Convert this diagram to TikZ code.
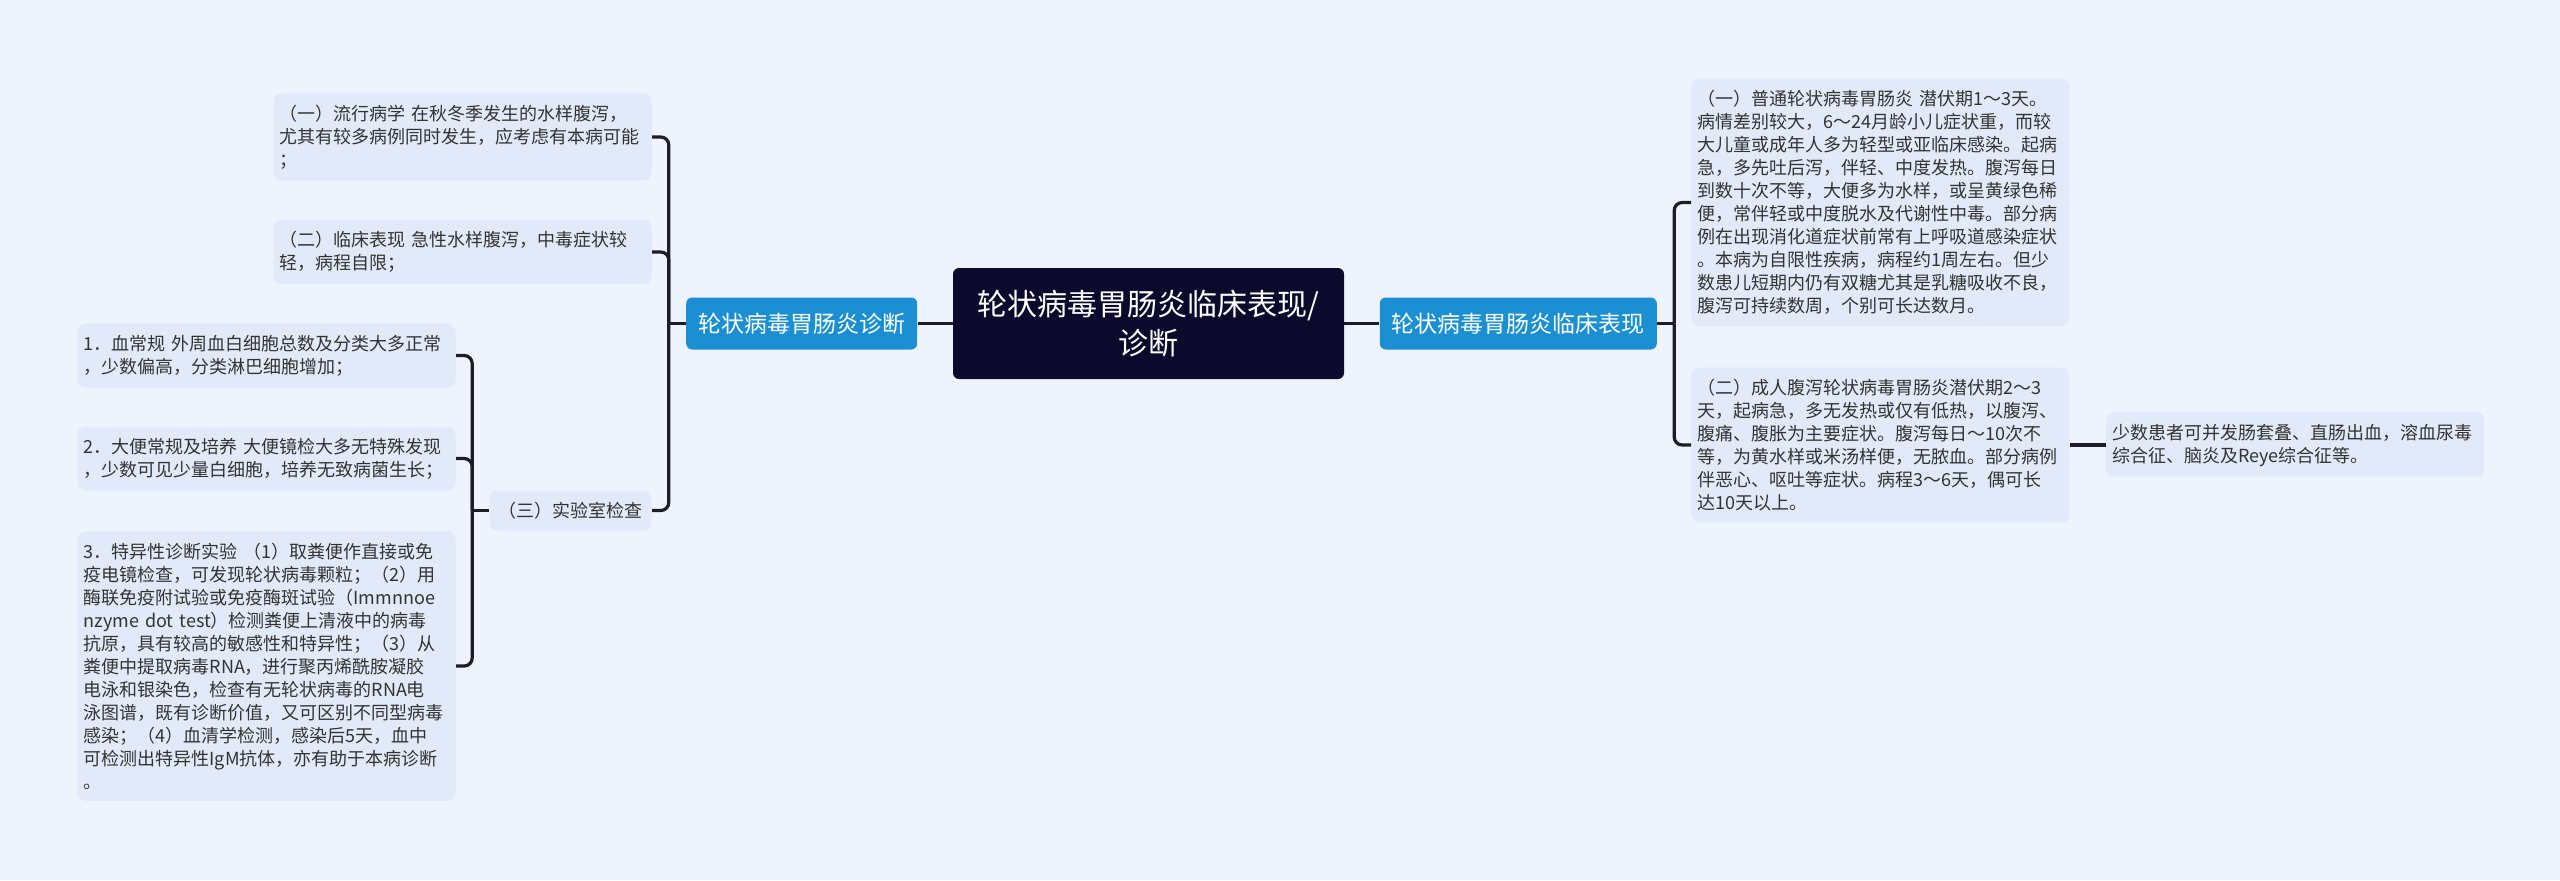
\documentclass[tikz,border=0pt]{standalone}
\usepackage{fontspec}
\setmainfont{Noto Sans CJK SC}
\usepackage{xcolor}
\usepackage{tikz}
\usetikzlibrary{positioning}
\definecolor{bgcol}{HTML}{EEF3FD}
\definecolor{leafcol}{HTML}{E2EAF9}
\definecolor{topiccol}{HTML}{1B8FD2}
\definecolor{rootcol}{HTML}{0B0A2C}
\definecolor{linecol}{HTML}{1C1C2C}
\definecolor{textcol}{HTML}{333333}
\tikzset{
  leafbox/.style={fill=leafcol, rounded corners=4pt, align=left, text=textcol,
                  font=\fontsize{9pt}{11.5pt}\selectfont, text width=183pt,
                  inner xsep=3pt, inner ysep=5.75pt},
  labbox/.style={fill=leafcol, rounded corners=4pt, text=textcol,
                 font=\fontsize{9pt}{11.5pt}\selectfont, inner xsep=4.5pt, inner ysep=5.75pt},
  topicbox/.style={fill=topiccol, rounded corners=3pt, text=white,
                   font=\fontsize{11.5pt}{14pt}\selectfont, minimum height=26pt, inner xsep=6pt},
  rootbox/.style={fill=rootcol, rounded corners=3pt, text=white, align=center,
                  font=\fontsize{15pt}{19.5pt}\selectfont, minimum width=195.5pt, minimum height=55.5pt},
  link/.style={draw=linecol, line width=1.6pt, rounded corners=4pt},
}
\begin{document}
\begin{tikzpicture}[x=0.5pt, y=-0.5pt]
  \fill[bgcol] (0,0) rectangle (2560,880);
  \node[rootbox] (root) at (1148.5,323.5) {轮状病毒胃肠炎临床表现/\\诊断};
  \node[topicbox, left=17.5pt of root] (diag) {轮状病毒胃肠炎诊断};
  \node[topicbox, right=17.5pt of root] (clinic) {轮状病毒胃肠炎临床表现};
  \coordinate[left=8.5pt of diag] (diagj);
  \coordinate[right=8.5pt of clinic] (clinicj);

  \node[leafbox, anchor=west] (common) at (1691,202.5) {（一）普通轮状病毒胃肠炎 潜伏期1～3天。\\病情差别较大，6～24月龄小儿症状重，而较\\大儿童或成年人多为轻型或亚临床感染。起病\\急，多先吐后泻，伴轻、中度发热。腹泻每日\\到数十次不等，大便多为水样，或呈黄绿色稀\\便，常伴轻或中度脱水及代谢性中毒。部分病\\例在出现消化道症状前常有上呼吸道感染症状\\。本病为自限性疾病，病程约1周左右。但少\\数患儿短期内仍有双糖尤其是乳糖吸收不良，\\腹泻可持续数周，个别可长达数月。};
  \node[leafbox, anchor=west] (adult) at (1691,445) {（二）成人腹泻轮状病毒胃肠炎潜伏期2～3\\天，起病急，多无发热或仅有低热，以腹泻、\\腹痛、腹胀为主要症状。腹泻每日～10次不\\等，为黄水样或米汤样便，无脓血。部分病例\\伴恶心、呕吐等症状。病程3～6天，偶可长\\达10天以上。};
  \node[leafbox, right=18pt of adult] (compl) {少数患者可并发肠套叠、直肠出血，溶血尿毒\\综合征、脑炎及Reye综合征等。};

  \node[leafbox, anchor=east] (epi) at (652,137) {（一）流行病学 在秋冬季发生的水样腹泻，\\尤其有较多病例同时发生，应考虑有本病可能\\；};
  \node[leafbox, anchor=east] (clin) at (652,252) {（二）临床表现 急性水样腹泻，中毒症状较\\轻，病程自限；};
  \node[labbox, anchor=east] (lab) at (652,510.5) {（三）实验室检查};
  \coordinate[left=8.5pt of lab] (labj);
  \node[leafbox, anchor=east] (blood) at (456,355.5) {1．血常规 外周血白细胞总数及分类大多正常\\，少数偏高，分类淋巴细胞增加；};
  \node[leafbox, anchor=east] (stool) at (456,458.5) {2．大便常规及培养 大便镜检大多无特殊发现\\，少数可见少量白细胞，培养无致病菌生长；};
  \node[leafbox, anchor=east] (spec) at (456,666) {3．特异性诊断实验 （1）取粪便作直接或免\\疫电镜检查，可发现轮状病毒颗粒；（2）用\\酶联免疫附试验或免疫酶斑试验（Immnnoe\\nzyme dot test）检测粪便上清液中的病毒\\抗原，具有较高的敏感性和特异性；（3）从\\粪便中提取病毒RNA，进行聚丙烯酰胺凝胶\\电泳和银染色，检查有无轮状病毒的RNA电\\泳图谱，既有诊断价值，又可区别不同型病毒\\感染；（4）血清学检测，感染后5天，血中\\可检测出特异性IgM抗体，亦有助于本病诊断\\。};

  \draw[link] (root) -- (diag);
  \draw[link] (root) -- (clinic);
  \draw[link] (diag) -- (diagj);
  \draw[link] (diagj) |- (epi);
  \draw[link] (diagj) |- (clin);
  \draw[link] (diagj) |- (lab);
  \draw[link] (lab) -- (labj);
  \draw[link] (labj) |- (blood);
  \draw[link] (labj) |- (stool);
  \draw[link] (labj) |- (spec);
  \draw[link] (clinic) -- (clinicj);
  \draw[link] (clinicj) |- (common);
  \draw[link] (clinicj) |- (adult);
  \draw[link] (adult) -- (compl);
\end{tikzpicture}
\end{document}
